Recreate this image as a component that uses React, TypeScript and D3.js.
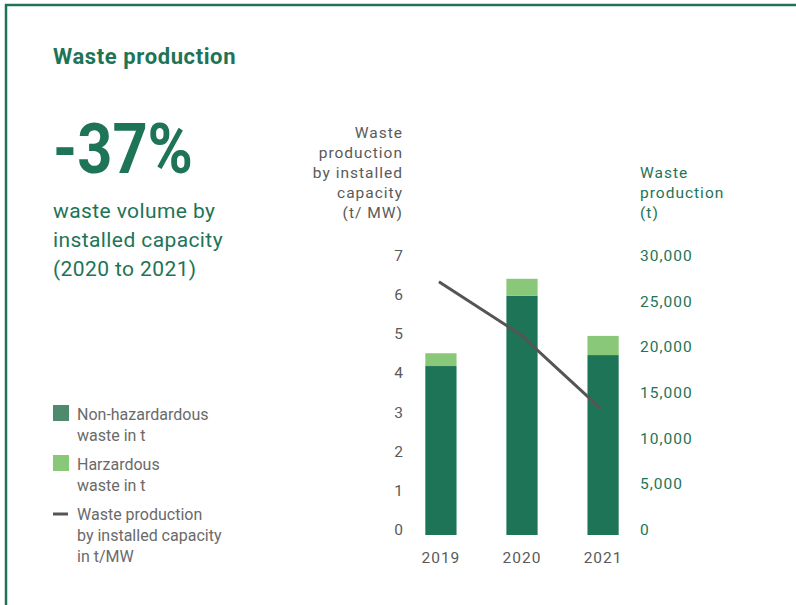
import React from "react";
import * as d3 from "d3";

const years = ["2019", "2020", "2021"];
const nonHazardous = [18500, 26200, 19700];
const hazardous = [1400, 1850, 2100];
const perCapacity = [6.47, 5.13, 3.22];
const leftTicks = [0, 1, 2, 3, 4, 5, 6, 7];
const rightTicks = [0, 5000, 10000, 15000, 20000, 25000, 30000];

const GREEN = "#1e7456";
const LIGHT = "#88c878";
const GRAY = "#5a5a5a";
const FONT = "'Roboto', sans-serif";

export default function App() {
  const yBase = 535;
  const yTop = 261;
  const yL = d3.scaleLinear().domain([0, 7]).range([yBase, yTop]);
  const yR = d3.scaleLinear().domain([0, 30000]).range([yBase, yTop]);
  const x = d3.scaleBand().domain(years).range([401, 643]).paddingInner(0.615).paddingOuter(0.3);
  const bw = x.bandwidth();
  const line = d3
    .line<number>()
    .x((_, i) => (x(years[i]) as number) + bw / 2 - 2)
    .y((d) => yL(d));
  const fmt = d3.format(",");
  const legendFill = "#6a6a6a";
  const lfs = 16;

  return (
    <svg width={796} height={605} style={{ position: "absolute", left: 0, top: 0, background: "#fff" }}>
      <line x1={5} y1={5} x2={796} y2={5} stroke={GREEN} strokeWidth={2.5} />
      <line x1={6} y1={4} x2={6} y2={605} stroke={GREEN} strokeWidth={2.5} />

      <text x={53} y={64} fontFamily={FONT} fontWeight="bold" fontSize={22} fill={GREEN} letterSpacing={0.6}>
        Waste production
      </text>
      <text
        x={53}
        y={173}
        fontFamily={FONT}
        fontWeight="bold"
        fontSize={71}
        fill={GREEN}
        textLength={140}
        lengthAdjust="spacingAndGlyphs"
      >
        -37%
      </text>
      {["waste volume by", "installed capacity", "(2020 to 2021)"].map((t, i) => (
        <text key={t} x={53} y={218 + i * 29} fontFamily={FONT} fontSize={21} fill={GREEN} letterSpacing={0.4}>
          {t}
        </text>
      ))}

      {["Waste", "production", "by installed", "capacity", "(t/ MW)"].map((t, i) => (
        <text key={t} x={403} y={138 + i * 20} textAnchor="end" fontFamily={FONT} fontSize={15.5} fill={GRAY} letterSpacing={1}>
          {t}
        </text>
      ))}
      {["Waste", "production", "(t)"].map((t, i) => (
        <text key={t} x={640} y={178 + i * 20} fontFamily={FONT} fontSize={15.5} fill={GREEN} letterSpacing={1}>
          {t}
        </text>
      ))}

      {leftTicks.map((v) => (
        <text key={v} x={403} y={yL(v)} textAnchor="end" fontFamily={FONT} fontSize={15.5} fill={GRAY}>
          {v}
        </text>
      ))}
      {rightTicks.map((v) => (
        <text key={v} x={640} y={yR(v)} fontFamily={FONT} fontSize={15.5} fill={GREEN} letterSpacing={1}>
          {fmt(v)}
        </text>
      ))}

      {years.map((yr, i) => {
        const x0 = x(yr) as number;
        return (
          <g key={yr}>
            <rect x={x0} y={yR(nonHazardous[i])} width={bw} height={yBase - yR(nonHazardous[i])} fill={GREEN} />
            <rect
              x={x0}
              y={yR(nonHazardous[i] + hazardous[i])}
              width={bw}
              height={yR(nonHazardous[i]) - yR(nonHazardous[i] + hazardous[i])}
              fill={LIGHT}
            />
            <text x={x0 + bw / 2} y={563} textAnchor="middle" fontFamily={FONT} fontSize={15.5} fill={GRAY} letterSpacing={1}>
              {yr}
            </text>
          </g>
        );
      })}

      <path d={line(perCapacity) || ""} fill="none" stroke="#555" strokeWidth={3} />

      <rect x={53} y={405} width={16} height={16} fill="#4d8a6e" />
      <text x={77} y={420} fontFamily={FONT} fontSize={lfs} fill={legendFill}>Non-hazardardous</text>
      <text x={77} y={441} fontFamily={FONT} fontSize={lfs} fill={legendFill}>waste in t</text>
      <rect x={53} y={455} width={16} height={16} fill={LIGHT} />
      <text x={77} y={470} fontFamily={FONT} fontSize={lfs} fill={legendFill}>Harzardous</text>
      <text x={77} y={491} fontFamily={FONT} fontSize={lfs} fill={legendFill}>waste in t</text>
      <line x1={53} y1={514} x2={68} y2={514} stroke="#555" strokeWidth={3} />
      <text x={77} y={520} fontFamily={FONT} fontSize={lfs} fill={legendFill}>Waste production</text>
      <text x={77} y={541} fontFamily={FONT} fontSize={lfs} fill={legendFill}>by installed capacity</text>
      <text x={77} y={562} fontFamily={FONT} fontSize={lfs} fill={legendFill}>in t/MW</text>
    </svg>
  );
}
